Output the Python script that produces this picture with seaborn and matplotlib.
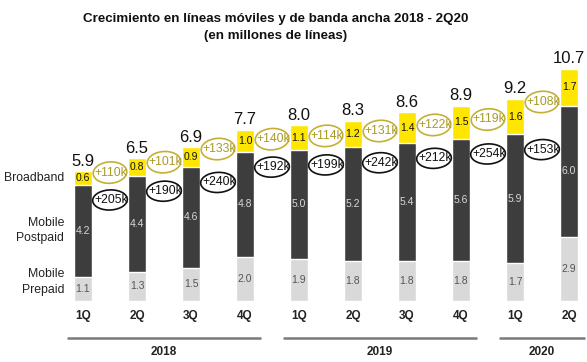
import matplotlib
matplotlib.use("Agg")
import matplotlib.pyplot as plt
from matplotlib.patches import Ellipse
import seaborn as sns
import pandas as pd
import numpy as np

# ---------------- data ----------------
keys = ["1Q18", "2Q18", "3Q18", "4Q18", "1Q19", "2Q19", "3Q19", "4Q19", "1Q20", "2Q20"]
quarters = ["1Q", "2Q", "3Q", "4Q", "1Q", "2Q", "3Q", "4Q", "1Q", "2Q"]
years = ["2018", "2019", "2020"]
year_counts = [4, 4, 2]
prepaid = [1.1, 1.3, 1.5, 2.0, 1.9, 1.8, 1.8, 1.8, 1.7, 2.9]
postpaid = [4.2, 4.4, 4.6, 4.8, 5.0, 5.2, 5.4, 5.6, 5.9, 6.0]
broadband = [0.6, 0.8, 0.9, 1.0, 1.1, 1.2, 1.4, 1.5, 1.6, 1.7]
totals = [5.9, 6.5, 6.9, 7.7, 8.0, 8.3, 8.6, 8.9, 9.2, 10.7]
bb_growth = ["+110k", "+101k", "+133k", "+140k", "+114k", "+131k", "+122k", "+119k", "+108k"]
pp_growth = ["+205k", "+190k", "+240k", "+192k", "+199k", "+242k", "+212k", "+254k", "+153k"]
series_names = ["Broadband", "Mobile\nPostpaid", "Mobile\nPrepaid"]

# ---------------- style ----------------
sns.set_theme(style="white")
plt.rcParams["font.family"] = ["Liberation Sans", "DejaVu Sans"]

YELLOW = "#FFE600"
DARK = "#3d3d3d"
LIGHT = "#d9d9d9"
OLIVE = "#c4b034"
OLIVE_TXT = "#a99a28"

df = pd.DataFrame({"key": keys, "prepaid": prepaid, "postpaid": postpaid, "broadband": broadband})
df["lvl1"] = df["prepaid"]
df["lvl2"] = df["prepaid"] + df["postpaid"]
df["lvl3"] = df["lvl2"] + df["broadband"]

fig = plt.figure(figsize=(5.87, 3.62), dpi=100)
ax = fig.add_axes([0, 61.3 / 362, 1, 300.7 / 362])

W = 0.34
sns.barplot(data=df, x="key", y="lvl3", order=keys, color=YELLOW, saturation=1, width=W, ax=ax)
sns.barplot(data=df, x="key", y="lvl2", order=keys, color=DARK, saturation=1, width=W, ax=ax)
sns.barplot(data=df, x="key", y="lvl1", order=keys, color=LIGHT, saturation=1, width=W, ax=ax)

ax.set_xlim(-83 / 54, 504 / 54)
ax.set_ylim(0, 300.7 / 21.9)
for s in ax.spines.values():
    s.set_visible(False)
ax.set_yticks([])
ax.set_ylabel("")
ax.set_xlabel("")
ax.set_xticks(range(len(keys)))
ax.set_xticklabels(quarters, fontweight="bold", fontsize=8.5, color="#222222")
ax.tick_params(axis="x", length=0, pad=7)

# segment labels
for i in range(len(keys)):
    p, q, b = prepaid[i], postpaid[i], broadband[i]
    ax.text(i, p / 2, f"{p:.1f}", ha="center", va="center", fontsize=7.5, color="#555555")
    ax.text(i, p + q / 2, f"{q:.1f}", ha="center", va="center", fontsize=7.5, color="#d8d8d8")
    ax.text(i, p + q + b / 2, f"{b:.1f}", ha="center", va="center", fontsize=7.5, color="#111111")
    ax.annotate(f"{totals[i]:.1f}", (i, p + q + b), xytext=(0, 2), textcoords="offset points",
                ha="center", va="bottom", fontsize=12, color="#111111")

# growth ellipses
for i in range(len(keys) - 1):
    bb_mid_l = prepaid[i] + postpaid[i] + broadband[i] / 2
    bb_mid_r = prepaid[i + 1] + postpaid[i + 1] + broadband[i + 1] / 2
    yb = (bb_mid_l + bb_mid_r) / 2
    ax.add_patch(Ellipse((i + 0.5, yb), 0.62, 0.98, angle=-4, fill=False, edgecolor=OLIVE, lw=1.2))
    ax.text(i + 0.52, yb, bb_growth[i], ha="center", va="center", fontsize=8.8, color=OLIVE_TXT)

    yp = prepaid[i] + postpaid[i] - 0.7
    ax.add_patch(Ellipse((i + 0.5, yp), 0.64, 0.92, angle=-4, fill=False, edgecolor="#111111", lw=1.2))
    ax.text(i + 0.52, yp, pp_growth[i], ha="center", va="center", fontsize=8.8, color="#111111")

# left series labels
ax.text(-0.35, prepaid[0] + postpaid[0] + broadband[0] / 2, series_names[0],
        ha="right", va="center", fontsize=8.8, color="#222222")
ax.text(-0.35, prepaid[0] + postpaid[0] / 2, series_names[1],
        ha="right", va="center", fontsize=8.8, color="#222222", linespacing=1.4)
ax.text(-0.35, prepaid[0] / 2 + 0.3, series_names[2],
        ha="right", va="center", fontsize=8.8, color="#222222", linespacing=1.4)

# year group lines
trans = ax.get_xaxis_transform()
start = 0
for yr, n in zip(years, year_counts):
    c = start + (n - 1) / 2
    half = n / 2 - 0.2
    ax.plot([c - half, c + half], [-0.124, -0.124], transform=trans, color="#7a7a7a",
            lw=1.8, clip_on=False, solid_capstyle="butt")
    ax.text(c, -0.171, yr, transform=trans, ha="center", va="center",
            fontsize=8.5, fontweight="bold", color="#222222")
    start += n

fig.text(0.47, 1 - 19 / 362, "Crecimiento en líneas móviles y de banda ancha 2018 - 2Q20",
         ha="center", va="center", fontsize=9.6, fontweight="bold", color="#111111")
fig.text(0.47, 1 - 36 / 362, "(en millones de líneas)",
         ha="center", va="center", fontsize=9.6, fontweight="bold", color="#111111")

fig.savefig("out.png", dpi=100)
